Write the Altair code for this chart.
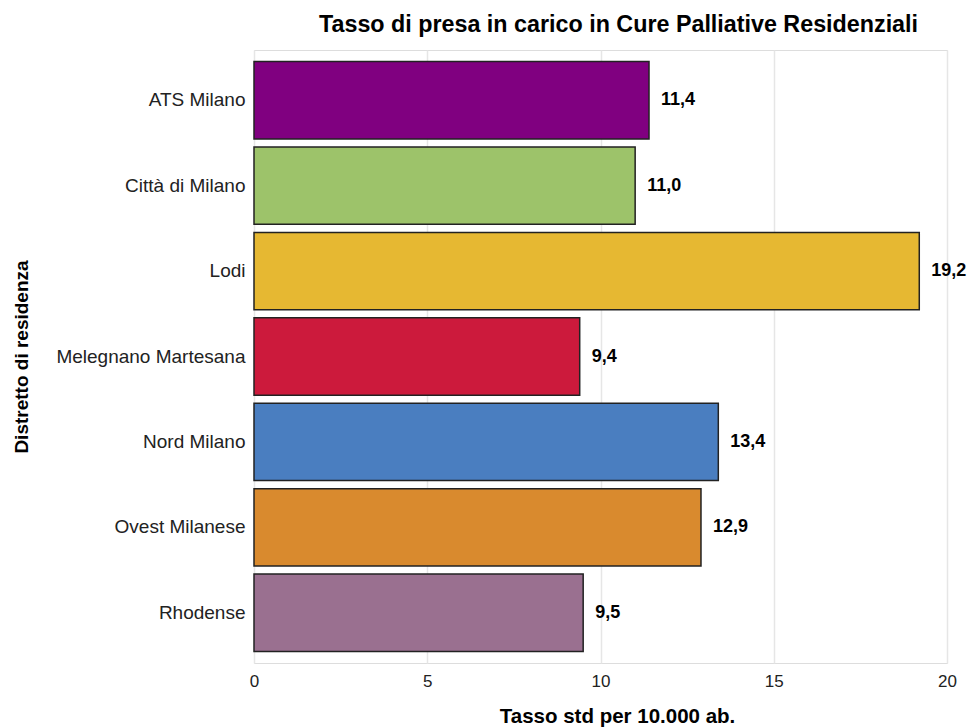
import altair as alt
import pandas as pd

distretti = ["ATS Milano", "Città di Milano", "Lodi", "Melegnano Martesana",
             "Nord Milano", "Ovest Milanese", "Rhodense"]
valori = [11.4, 11.0, 19.2, 9.4, 13.4, 12.9, 9.5]
colori = ["#800080", "#9DC36A", "#E6B832", "#CC1A3C", "#4A7EC0", "#D98A2E", "#9A7090"]

df = pd.DataFrame({"distretto": distretti, "valore": valori})
df["etichetta"] = [f"{v:.1f}".replace(".", ",") for v in valori]

FONT = "Liberation Sans"

y_enc = alt.Y("distretto:N", sort=distretti,
              scale=alt.Scale(paddingInner=0.094, paddingOuter=0.135),
              axis=alt.Axis(title="Distretto di residenza", titleFont=FONT, titleFontSize=19,
                            titleFontWeight="bold", titleColor="#000", titleX=-233,
                            titleBaseline="middle", titleAngle=-90,
                            labelFont=FONT, labelFontSize=19, labelColor="#222", labelLimit=300,
                            labelPadding=9, ticks=False, domain=False, grid=False))
x_enc = alt.X("valore:Q", scale=alt.Scale(domain=[0, 20], nice=False),
              axis=alt.Axis(title="Tasso std per 10.000 ab.", titleFont=FONT, titleFontSize=20.5,
                            titleFontWeight="bold", titleColor="#000", titleX=363, titleY=53,
                            titleBaseline="middle",
                            labelFont=FONT, labelFontSize=17, labelColor="#222", labelPadding=10,
                            labelFlush=False,
                            values=[0, 5, 10, 15, 20], ticks=False, domain=False,
                            grid=True, gridColor="#e6e6e6", gridWidth=1.5))

bars = alt.Chart(df).mark_bar(stroke="#222", strokeWidth=1.5).encode(
    x=x_enc, y=y_enc,
    color=alt.Color("distretto:N", scale=alt.Scale(domain=distretti, range=colori), legend=None),
)

text = alt.Chart(df).mark_text(align="left", baseline="middle", dx=12, font=FONT,
                               fontSize=18, fontWeight="bold", color="#000").encode(
    x="valore:Q", y=alt.Y("distretto:N", sort=distretti), text="etichetta:N")

chart = (bars + text).properties(
    width=693, height=613,
    autosize=alt.AutoSizeParams(type="none"),
    padding={"left": 254, "top": 50, "right": 20, "bottom": 64},
    title=alt.TitleParams("Tasso di presa in carico in Cure Palliative Residenziali", font=FONT,
                          fontSize=23.3, fontWeight="bold", color="#000", dx=18, offset=13),
).configure_view(stroke=None).configure(background="white")

chart.save("out.html", embed_options={"renderer": "svg", "actions": False})
